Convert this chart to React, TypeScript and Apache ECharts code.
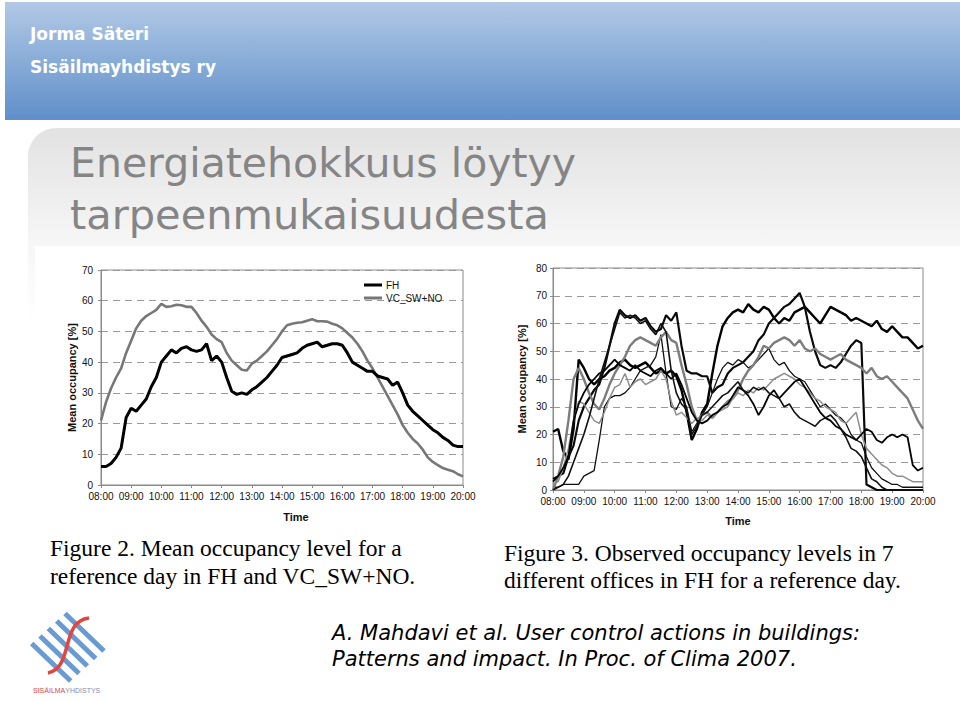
import React, { useEffect, useRef } from "react";
import * as echarts from "echarts";

// ---------- data ----------
const TIME_LABELS = ["08:00", "09:00", "10:00", "11:00", "12:00", "13:00", "14:00", "15:00", "16:00", "17:00", "18:00", "19:00", "20:00"];
// sample grid: every 10 minutes from 08:00 to 20:00
const TIMES = Array.from({ length: 73 }, (_, i) => 8 + i / 6);

// Figure 2 – mean occupancy [%]
const FH = [
  6, 6, 7, 9, 12, 22,
  25, 24, 26, 28, 32, 35,
  40, 42, 44, 43, 44.5, 45,
  44, 43.5, 44, 46, 40.5, 42,
  40, 35, 30.5, 29.5, 30, 29.5,
  31, 32, 33.5, 35, 37, 39,
  41.5, 42, 42.5, 43, 44.5, 45.5,
  46, 46.5, 45, 45.5, 46, 46,
  45.5, 43, 40, 39, 38, 37,
  37, 35.5, 35, 34.5, 32.5, 33.5,
  30, 26, 24, 22.5, 21, 19.5,
  18, 17, 15.5, 14.5, 13, 12.5,
  12.5,
];
const VC_SW_NO = [
  21, 27, 31.5, 35, 38, 43,
  47, 51, 53.5, 55, 56, 57,
  59, 58, 58.2, 58.7, 58.5, 58,
  58, 56, 53.5, 51.5, 49, 47.5,
  46.5, 43, 40.5, 39, 37.5, 37.3,
  39.5, 40.5, 42, 43.5, 45.5, 47.5,
  50, 52, 52.5, 52.8, 53, 53.5,
  54, 53.3, 53.3, 53.2, 52.5, 52,
  51, 49.5, 48, 46, 43.5, 40.5,
  38, 35, 32, 29, 26, 23,
  19.5, 17, 15, 13.5, 11.5, 9,
  7.5, 6.5, 5.5, 5, 4.5, 3.5,
  2.8,
];

// Figure 3 – observed occupancy [%] in 7 offices
const OFFICE_1 = [
  21, 22, 14, 11, 22, 47,
  44, 40, 38, 40, 41, 43,
  44, 46, 47, 45, 44, 45,
  46, 44, 42, 43, 42, 43,
  41, 36, 28, 18, 22, 28,
  31, 42, 52, 59, 62, 64,
  65, 64, 67, 65, 64, 66,
  65, 62, 60, 62, 61, 64,
  65, 66, 64, 62, 60, 63,
  66, 65, 64, 63, 61, 62,
  61, 60, 59, 61, 58, 57,
  59, 57, 55, 55, 53, 51,
  52,
];
const OFFICE_2 = [
  4, 5, 6, 12, 16, 25,
  30, 33, 36, 38, 44, 52,
  60, 65, 63, 62, 63, 61,
  62, 59, 57, 58, 63, 61,
  64, 52, 43, 42, 42, 41,
  41, 35, 37, 38, 42, 44,
  45, 46, 48, 50, 54, 56,
  60, 62, 64, 66, 67, 69,
  71, 66, 57, 50, 45, 44,
  45, 44, 46, 49, 52, 54,
  53, 2, 1, 0, 0, 0,
  0, 0, 0, 0, 0, 0,
  0,
];
const OFFICE_3 = [
  1, 1, 2, 2, 2, 2,
  5, 6, 7, 18, 30, 33,
  34, 34, 35, 37, 40, 43,
  44, 45, 48, 56, 42, 30,
  29, 33, 30, 21, 24, 27,
  30, 35, 40, 44, 46, 45,
  47, 46, 44, 45, 47, 49,
  51, 47, 45, 46, 43, 41,
  40, 39, 36, 33, 30, 31,
  29, 27, 26, 24, 20, 18,
  17, 12, 8, 6, 4, 3,
  2, 2, 1, 1, 1, 1,
  1,
];
const OFFICE_4 = [
  0, 5, 12, 25, 40, 44,
  40, 35, 31, 29, 33, 38,
  42, 45, 48, 52, 54, 55,
  54, 53, 52, 55, 57, 54,
  53, 45, 38, 30, 25, 27,
  28, 26, 28, 30, 32, 33,
  36, 40, 43, 45, 48, 52,
  51, 53, 54, 55, 54, 52,
  54, 51, 50, 51, 49, 48,
  47, 48, 49, 47, 46, 45,
  44, 42, 44, 41, 40, 41,
  39, 37, 35, 33, 29, 25,
  22,
];
const OFFICE_5 = [
  2, 3, 8, 15, 25, 32,
  31, 28, 25, 24, 28, 33,
  37, 38, 42, 37, 39, 40,
  38, 39, 40, 43, 40, 32,
  27, 28, 26, 24, 26, 25,
  27, 26, 28, 29, 30, 33,
  35, 34, 36, 35, 37, 36,
  38, 40, 41, 42, 41, 40,
  38, 37, 35, 33, 32, 30,
  29, 28, 25, 24, 26, 28,
  20, 15, 13, 11, 9, 8,
  6, 5, 5, 4, 3, 3,
  3,
];
const OFFICE_6 = [
  3, 5, 8, 12, 25, 31,
  35, 38, 40, 42, 43, 45,
  47, 45, 44, 43, 45, 43,
  42, 41, 43, 44, 42, 40,
  42, 38, 33, 28, 25, 24,
  25, 27, 28, 30, 31, 34,
  37, 36, 34, 31, 27, 30,
  34, 36, 33, 35, 37, 39,
  40, 37, 34, 31, 28, 26,
  25, 23, 22, 20, 19, 18,
  20, 22, 21, 18, 17, 19,
  20, 19, 20, 19, 9, 7,
  8,
];
const OFFICE_7 = [
  0, 1, 2, 5, 10, 15,
  20, 26, 33, 40, 46, 52,
  58, 64, 62, 63, 62, 60,
  61, 58, 56, 60, 57, 43,
  35, 31, 29, 20, 23, 27,
  28, 30, 32, 34, 35, 37,
  39, 36, 35, 37, 36, 37,
  35, 34, 33, 30, 31, 28,
  26, 25, 24, 23, 25, 26,
  27, 25, 22, 19, 15, 14,
  12, 8, 4, 3, 1, 0,
  0, 0, 0, 0, 0, 0,
  0,
];

const OFFICES = [OFFICE_1, OFFICE_2, OFFICE_3, OFFICE_4, OFFICE_5, OFFICE_6, OFFICE_7];
const OFFICE_STYLES = [
  { color: "#000000", width: 2.4 },
  { color: "#0a0a0a", width: 2.2 },
  { color: "#111111", width: 1.3 },
  { color: "#7d7d7d", width: 2.4 },
  { color: "#8e8e8e", width: 1.5 },
  { color: "#050505", width: 1.8 },
  { color: "#111111", width: 1.6 },
];

const AXIS_GRAY = "#8a8a8a";
const SANS = "'Liberation Sans', Arial, sans-serif";

function pairs(vals: number[]) {
  return TIMES.map((t, i) => [t, vals[i]]);
}

function xAxisCfg(gridIndex: number, nameGap: number, namePad: number[]) {
  return {
    gridIndex,
    type: "value",
    min: 8,
    max: 20,
    interval: 1,
    axisLine: { show: true, onZero: false, lineStyle: { color: AXIS_GRAY } },
    axisTick: { show: true, length: 3, lineStyle: { color: AXIS_GRAY } },
    axisLabel: {
      formatter: (v: number) => TIME_LABELS[Math.round(v - 8)],
      fontSize: 10,
      color: "#111",
      margin: 6,
      fontFamily: SANS,
    },
    splitLine: { show: false },
    name: "Time",
    nameLocation: "middle",
    nameGap,
    nameTextStyle: { fontSize: 11, fontWeight: "bold", color: "#111", fontFamily: SANS, padding: namePad },
  };
}

function yAxisCfg(gridIndex: number, max: number, nameGap: number, labelMargin: number) {
  return {
    gridIndex,
    type: "value",
    min: 0,
    max,
    interval: 10,
    axisLine: { show: true, lineStyle: { color: AXIS_GRAY } },
    axisTick: { show: true, length: 3, lineStyle: { color: AXIS_GRAY } },
    axisLabel: { fontSize: 10, color: "#111", margin: labelMargin, fontFamily: SANS },
    splitLine: { show: true, lineStyle: { type: [7, 5], color: "#9a9a9a", width: 1 } },
    name: "Mean occupancy [%]",
    nameLocation: "middle",
    nameGap,
    nameTextStyle: { fontSize: 11, fontWeight: "bold", color: "#111", fontFamily: SANS },
  };
}

export default function App() {
  const ref = useRef<HTMLDivElement>(null);

  useEffect(() => {
    if (!ref.current) return;
    const chart = echarts.init(ref.current, undefined, { renderer: "svg" });

    const stripes: any[] = [];
    for (let k = 0; k < 5; k++) {
      const sx = 65 - k * 8.33;
      const sy = 613.5 + k * 7.5;
      stripes.push({
        type: "line",
        z: 1,
        shape: { x1: sx, y1: sy, x2: sx + 39, y2: sy + 37.5 },
        style: { stroke: "#6a9ad3", lineWidth: 5 },
      });
    }

    const option: any = {
      animation: false,
      textStyle: { fontFamily: SANS },
      grid: [
        { left: 101, top: 270, width: 362, height: 215, show: true, borderColor: AXIS_GRAY, borderWidth: 1, backgroundColor: "transparent" },
        { left: 553, top: 268, width: 370, height: 222, show: true, borderColor: AXIS_GRAY, borderWidth: 1, backgroundColor: "transparent" },
      ],
      xAxis: [xAxisCfg(0, 26, [0, 0, 0, 28]), xAxisCfg(1, 25, [0, 0, 0, 0])],
      yAxis: [yAxisCfg(0, 70, 24, 8), yAxisCfg(1, 80, 26, 6)],
      legend: {
        data: ["FH", "VC_SW+NO"],
        orient: "vertical",
        left: 364,
        top: 280,
        padding: 0,
        itemWidth: 18,
        itemHeight: 3,
        itemGap: 3,
        icon: "rect",
        selectedMode: false,
        textStyle: { fontSize: 10, color: "#111", fontFamily: SANS, padding: [0, 0, 0, -1] },
      },
      series: [
        {
          name: "FH",
          type: "line",
          xAxisIndex: 0,
          yAxisIndex: 0,
          data: pairs(FH),
          showSymbol: false,
          symbol: "none",
          lineStyle: { color: "#000", width: 3 },
          itemStyle: { color: "#000" },
          z: 4,
        },
        {
          name: "VC_SW+NO",
          type: "line",
          xAxisIndex: 0,
          yAxisIndex: 0,
          data: pairs(VC_SW_NO),
          showSymbol: false,
          symbol: "none",
          lineStyle: { color: "#777", width: 2.6 },
          itemStyle: { color: "#777" },
          z: 3,
        },
        ...OFFICES.map((vals, i) => ({
          name: "Office " + (i + 1),
          type: "line",
          xAxisIndex: 1,
          yAxisIndex: 1,
          data: pairs(vals),
          showSymbol: false,
          symbol: "none",
          lineStyle: { color: OFFICE_STYLES[i].color, width: OFFICE_STYLES[i].width },
          itemStyle: { color: OFFICE_STYLES[i].color },
          z: 3,
        })),
      ],
      graphic: [
        // header band
        {
          type: "rect",
          z: -20,
          shape: { x: 5, y: 2, width: 955, height: 118 },
          style: {
            fill: new echarts.graphic.LinearGradient(0, 0, 0, 1, [
              { offset: 0, color: "#b2c9e6" },
              { offset: 1, color: "#5f8fc9" },
            ]),
          },
        },
        // title box
        {
          type: "rect",
          z: -20,
          shape: { x: 28, y: 128, width: 940, height: 190, r: [28, 0, 0, 0] },
          style: {
            fill: new echarts.graphic.LinearGradient(0, 0, 0, 1, [
              { offset: 0, color: "#e2e2e2" },
              { offset: 0.6, color: "#f6f6f6" },
              { offset: 1, color: "#ffffff" },
            ]),
          },
        },
        // white picture area
        {
          type: "rect",
          z: -19,
          shape: { x: 35, y: 246, width: 925, height: 360 },
          style: { fill: "#ffffff" },
        },
        {
          type: "text",
          z: 5,
          x: 30,
          y: 33.5,
          style: { text: "Jorma Säteri", fill: "#ffffff", fontSize: 17, fontWeight: "bold", fontFamily: "'DejaVu Sans', sans-serif", verticalAlign: "middle" },
        },
        {
          type: "text",
          z: 5,
          x: 30,
          y: 66.7,
          style: { text: "Sisäilmayhdistys ry", fill: "#ffffff", fontSize: 17, fontWeight: "bold", fontFamily: "'DejaVu Sans', sans-serif", verticalAlign: "middle" },
        },
        {
          type: "text",
          z: 5,
          x: 70,
          y: 162.5,
          style: { text: "Energiatehokkuus löytyy", fill: "#858585", fontSize: 41, fontFamily: "'DejaVu Sans', sans-serif", verticalAlign: "middle" },
        },
        {
          type: "text",
          z: 5,
          x: 70,
          y: 214.5,
          style: { text: "tarpeenmukaisuudesta", fill: "#858585", fontSize: 41.5, fontFamily: "'DejaVu Sans', sans-serif", verticalAlign: "middle" },
        },
        // captions
        {
          type: "text",
          z: 5,
          x: 50,
          y: 548,
          style: { text: "Figure 2. Mean occupancy level for a", fill: "#000", fontSize: 23.5, fontFamily: "'Liberation Serif', 'Times New Roman', serif", verticalAlign: "middle" },
        },
        {
          type: "text",
          z: 5,
          x: 50,
          y: 576,
          style: { text: "reference day in FH and VC_SW+NO.", fill: "#000", fontSize: 23.5, fontFamily: "'Liberation Serif', 'Times New Roman', serif", verticalAlign: "middle" },
        },
        {
          type: "text",
          z: 5,
          x: 504,
          y: 553,
          style: { text: "Figure 3. Observed occupancy levels in 7", fill: "#000", fontSize: 23.5, fontFamily: "'Liberation Serif', 'Times New Roman', serif", verticalAlign: "middle" },
        },
        {
          type: "text",
          z: 5,
          x: 504,
          y: 580,
          style: { text: "different offices in FH for a reference day.", fill: "#000", fontSize: 23.5, fontFamily: "'Liberation Serif', 'Times New Roman', serif", verticalAlign: "middle" },
        },
        // citation
        {
          type: "text",
          z: 5,
          x: 332,
          y: 633,
          style: { text: "A. Mahdavi et al. User control actions in buildings:", fill: "#000", fontSize: 21, fontStyle: "italic", fontFamily: "'DejaVu Sans', sans-serif", verticalAlign: "middle" },
        },
        {
          type: "text",
          z: 5,
          x: 332,
          y: 659,
          style: { text: "Patterns and impact. In Proc. of Clima 2007.", fill: "#000", fontSize: 21, fontStyle: "italic", fontFamily: "'DejaVu Sans', sans-serif", verticalAlign: "middle" },
        },
        // logo
        ...stripes,
        {
          type: "bezierCurve",
          z: 2,
          shape: { x1: 89, y1: 618, cpx1: 60, cpy1: 621, cpx2: 74, cpy2: 668, x2: 48, y2: 673 },
          style: { stroke: "#e0463d", lineWidth: 3.5, fill: null },
        },
        {
          type: "text",
          z: 5,
          x: 33,
          y: 690,
          style: {
            text: "{a|SISÄILMA}{b|YHDISTYS}",
            fontSize: 7,
            fontFamily: SANS,
            verticalAlign: "middle",
            rich: {
              a: { fill: "#d8473f", fontSize: 7, fontFamily: SANS },
              b: { fill: "#7f8fae", fontSize: 7, fontFamily: SANS },
            },
          },
        },
      ],
    };

    chart.setOption(option);
    return () => {
      chart.dispose();
    };
  }, []);

  return (
    <div
      ref={ref}
      style={{ position: "fixed", left: 0, top: 0, width: 960, height: 701, background: "#ffffff" }}
    />
  );
}
